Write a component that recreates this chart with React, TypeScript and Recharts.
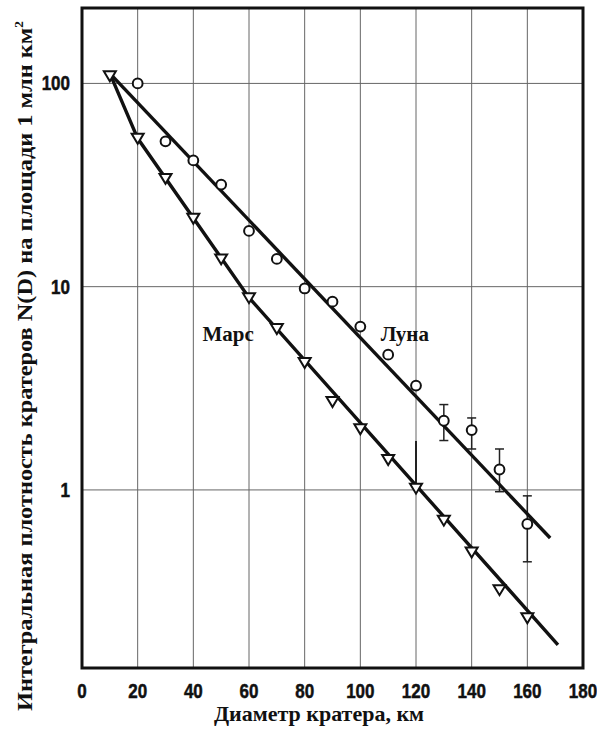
import React from 'react';
import {
  ComposedChart,
  Scatter,
  Line,
  XAxis,
  YAxis,
  CartesianGrid,
  ErrorBar,
  ReferenceArea,
  ReferenceDot,
  Label,
} from 'recharts';

// Луна (кружки)
const moonDiameters = [20, 30, 40, 50, 60, 70, 80, 90, 100, 110, 120, 130, 140, 150, 160];
const moonDensity = [100, 51.9, 41.8, 31.8, 18.8, 13.7, 9.8, 8.44, 6.36, 4.63, 3.26, 2.19, 1.97, 1.26, 0.68];

// доверительные интервалы для Луны
const moonErrDiameters = [130, 140, 150, 160];
const moonErrValues = [2.19, 1.97, 1.26, 0.68];
const moonErrLow = [0.44, 0.38, 0.28, 0.237];
const moonErrHigh = [0.44, 0.29, 0.33, 0.255];

// Марс (треугольники)
const marsDiameters = [10, 20, 30, 40, 50, 60, 70, 80, 90, 100, 110, 120, 130, 140, 150, 160];
const marsDensity = [109, 53.7, 34.1, 21.7, 13.7, 8.83, 6.22, 4.23, 2.72, 2.0, 1.41, 1.02, 0.71, 0.495, 0.323, 0.235];

// верхняя ошибка для Марса при 120 км
const marsErrDiameters = [120];
const marsErrValues = [1.02];
const marsErrHigh = [0.72];

// линии аппроксимации
const moonFitD = [10, 168.2];
const moonFitN = [112, 0.58];
const marsFitD = [10, 20, 60, 171];
const marsFitN = [112, 53.7, 8.83, 0.173];

const xTicks = [0, 20, 40, 60, 80, 100, 120, 140, 160, 180];
const yTicks = [1, 10, 100];

const moonData = moonDiameters.map((d, i) => ({ d, n: moonDensity[i] }));
const marsData = marsDiameters.map((d, i) => ({ d, n: marsDensity[i] }));
const moonErrData = moonErrDiameters.map((d, i) => ({
  d,
  n: moonErrValues[i],
  err: [moonErrLow[i], moonErrHigh[i]],
}));
const marsErrData = marsErrDiameters.map((d, i) => ({ d, n: marsErrValues[i], err: [0, marsErrHigh[i]] }));
const moonFit = moonFitD.map((d, i) => ({ d, n: moonFitN[i] }));
const marsFit = marsFitD.map((d, i) => ({ d, n: marsFitN[i] }));

const INK = '#111';
const tickFont = '"Liberation Sans", Arial, sans-serif';
const serif = '"Liberation Serif", "Times New Roman", serif';

const CircleMark = (p: any) => (
  <circle cx={p.cx} cy={p.cy} r={4.9} fill="#fff" stroke={INK} strokeWidth={2} />
);

const TriangleMark = (p: any) => (
  <path
    d={`M${p.cx - 6},${p.cy - 4.5}L${p.cx + 6},${p.cy - 4.5}L${p.cx},${p.cy + 5.5}Z`}
    fill="#fff"
    stroke={INK}
    strokeWidth={2}
  />
);

const NoMark = () => <g />;

// узкие полужирные подписи делений
const XTick = (p: any) => (
  <g transform={`translate(${p.x},${p.y})`}>
    <text
      x={0}
      y={0}
      dy={30}
      textAnchor="middle"
      transform="scale(0.85,1)"
      fontFamily={tickFont}
      fontWeight={700}
      fontSize={20}
      fill={INK}
      stroke={INK}
      strokeWidth={0.5}
    >
      {p.payload.value}
    </text>
  </g>
);

const YTick = (p: any) => (
  <g transform={`translate(${p.x},${p.y})`}>
    <text
      x={0}
      y={0}
      dy={7}
      textAnchor="end"
      transform="scale(0.85,1)"
      fontFamily={tickFont}
      fontWeight={700}
      fontSize={20}
      fill={INK}
      stroke={INK}
      strokeWidth={0.5}
    >
      {p.payload.value}
    </text>
  </g>
);

const YTitle = () => (
  <text
    x={32}
    y={366}
    transform="rotate(-90, 32, 366)"
    textAnchor="middle"
    fontFamily={serif}
    fontWeight="bold"
    fontSize={22}
    fill={INK}
    textLength={690}
    lengthAdjust="spacingAndGlyphs"
  >
    Интегральная плотность кратеров N(D) на площади 1 млн км
    <tspan dy={-9} fontSize={12}>2</tspan>
  </text>
);

const XTitle = () => (
  <text x={319} y={721} textAnchor="middle" fontFamily={serif} fontWeight="bold" fontSize={22} fill={INK}>
    Диаметр кратера, км
  </text>
);

const App: React.FC = () => {
  return (
    <div style={{ position: 'absolute', left: 0, top: 0, background: '#fff' }}>
      <ComposedChart width={597} height={729} margin={{ top: 8, right: 14, bottom: 1, left: 22 }}>
        <CartesianGrid stroke="#666" strokeWidth={1} />
        <XAxis
          type="number"
          dataKey="d"
          domain={[0, 180]}
          ticks={xTicks}
          interval={0}
          allowDataOverflow
          tickLine={false}
          tickSize={0}
          axisLine={false}
          tickMargin={0}
          height={60}
          tick={XTick}
        >
          <Label content={XTitle} />
        </XAxis>
        <YAxis
          type="number"
          dataKey="n"
          scale="log"
          domain={[0.133, 235]}
          ticks={yTicks}
          interval={0}
          allowDataOverflow
          tickLine={false}
          tickSize={0}
          axisLine={false}
          tickMargin={12}
          width={60}
          tick={YTick}
        >
          <Label content={YTitle} />
        </YAxis>
        <ReferenceArea
          x1={0}
          x2={180}
          y1={0.133}
          y2={235}
          fill="none"
          fillOpacity={0}
          stroke={INK}
          strokeWidth={3}
          ifOverflow="visible"
        />

        <Scatter data={moonErrData} dataKey="n" shape={NoMark} isAnimationActive={false}>
          <ErrorBar dataKey="err" direction="y" width={4.5} stroke="#222" strokeWidth={1.5} />
        </Scatter>
        <Scatter data={marsErrData} dataKey="n" shape={NoMark} isAnimationActive={false}>
          <ErrorBar dataKey="err" direction="y" width={0} stroke="#222" strokeWidth={2} />
        </Scatter>

        <Scatter data={moonData} dataKey="n" shape={CircleMark} isAnimationActive={false} />
        <Scatter data={marsData} dataKey="n" shape={TriangleMark} isAnimationActive={false} />

        <Line
          data={moonFit}
          dataKey="n"
          type="linear"
          stroke={INK}
          strokeWidth={3.4}
          dot={false}
          activeDot={false}
          isAnimationActive={false}
        />
        <Line
          data={marsFit}
          dataKey="n"
          type="linear"
          stroke={INK}
          strokeWidth={3.4}
          dot={false}
          activeDot={false}
          isAnimationActive={false}
        />

        <ReferenceDot
          x={52.5}
          y={5.9}
          r={0}
          fill="none"
          stroke="none"
          label={{ value: 'Марс', position: 'center', fontFamily: serif, fontWeight: 'bold', fontSize: 21, fill: INK }}
        />
        <ReferenceDot
          x={116}
          y={5.9}
          r={0}
          fill="none"
          stroke="none"
          label={{ value: 'Луна', position: 'center', fontFamily: serif, fontWeight: 'bold', fontSize: 21, fill: INK }}
        />
      </ComposedChart>
    </div>
  );
};

export default App;
